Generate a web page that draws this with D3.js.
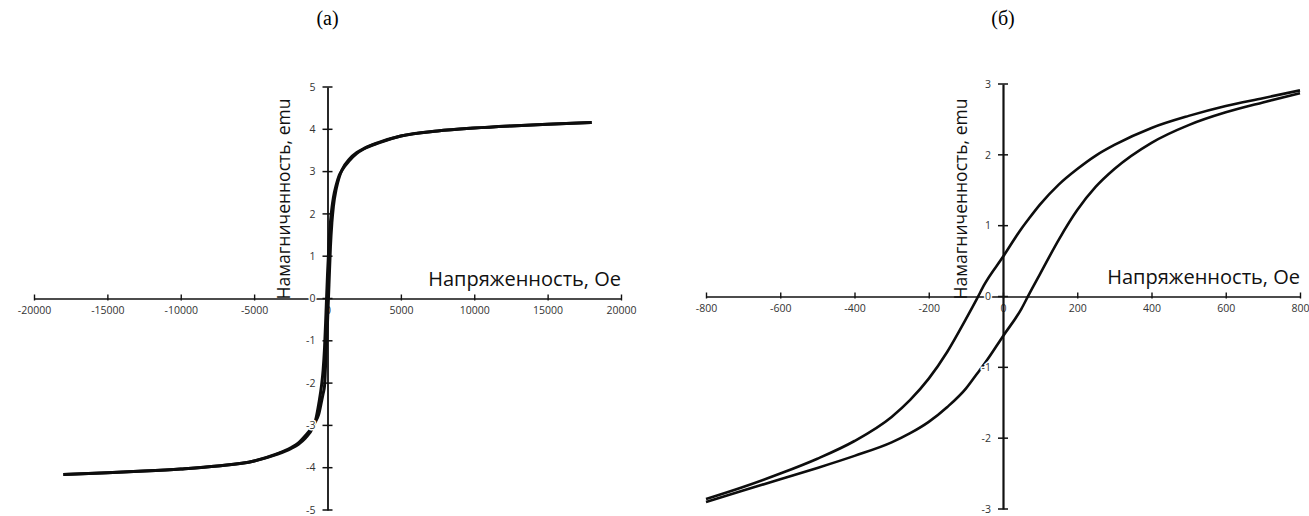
<!DOCTYPE html>
<html>
<head>
<meta charset="utf-8">
<script src="https://cdn.jsdelivr.net/npm/d3@7"></script>
<style>
  body { margin: 0; background: #fff; }
  svg { display: block; }
</style>
</head>
<body>
<svg id="chart" width="1309" height="516"></svg>
<script>
// tick values
var xTicksA = [ -20000, -15000, -10000, -5000, 0, 5000, 10000, 15000, 20000 ];
var yTicksA = [ -5, -4, -3, -2, -1, 0, 1, 2, 3, 4, 5 ];
var xTicksB = [ -800, -600, -400, -200, 0, 200, 400, 600, 800 ];
var yTicksB = [ -3, -2, -1, 0, 1, 2, 3 ];

// (а) full loop: field, Oe (same for both branches) / magnetization, emu
var aH = [ -18000, -15000, -12500, -10000, -7500, -5000, -3500, -2500, -2000, -1500, -1000, -800, -600, -400, -300, -200, -100, 0, 100, 200, 300, 400, 600, 800, 1000, 1500, 2000, 2500, 3500, 5000, 7500, 10000, 12500, 15000, 18000 ];
var aRise = [ -4.16, -4.12, -4.08, -4.03, -3.96, -3.84, -3.68, -3.53, -3.42, -3.24, -3.02, -2.90, -2.74, -2.42, -2.25, -2.06, -1.30, -0.56, 0.32, 1.22, 1.80, 2.17, 2.60, 2.87, 3.05, 3.30, 3.45, 3.55, 3.69, 3.84, 3.96, 4.03, 4.08, 4.12, 4.16 ];
var aFall = [ -4.16, -4.12, -4.08, -4.03, -3.96, -3.84, -3.69, -3.55, -3.45, -3.30, -3.05, -2.86, -2.50, -2.04, -1.70, -1.16, -0.32, 0.56, 1.30, 1.80, 2.14, 2.38, 2.69, 2.91, 3.04, 3.26, 3.43, 3.54, 3.68, 3.84, 3.96, 4.03, 4.08, 4.12, 4.16 ];

// (б) central part of the loop
var bH = [ -800, -700, -600, -500, -400, -300, -250, -200, -150, -100, -70, -50, 0, 50, 70, 100, 150, 200, 250, 300, 400, 500, 600, 700, 800 ];
var bFall = [ -2.86, -2.69, -2.50, -2.29, -2.04, -1.70, -1.46, -1.16, -0.78, -0.32, -0.03, 0.17, 0.56, 0.96, 1.10, 1.30, 1.58, 1.80, 1.99, 2.14, 2.38, 2.55, 2.69, 2.80, 2.91 ];
var bRise = [ -2.90, -2.74, -2.58, -2.42, -2.25, -2.06, -1.93, -1.77, -1.56, -1.30, -1.09, -0.95, -0.56, -0.17, 0.03, 0.32, 0.80, 1.22, 1.55, 1.80, 2.17, 2.42, 2.60, 2.74, 2.87 ];

var xTitle = "Напряженность, Ое";
var yTitle = "Намагниченность, emu";

var svg = d3.select( "#chart" );
var tickFont = "'Open Sans', 'Noto Sans', sans-serif";

function zip( h, m ) {
  return h.map( function( v, i ) { return [ v, m[ i ] ]; } );
}

function panel( p ) {
  var x = p.x, y = p.y;
  var g = svg.append( "g" );

  g.append( "text" )
    .attr( "x", x( 0 ) )
    .attr( "y", 25 )
    .attr( "text-anchor", "middle" )
    .style( "font-family", "'Liberation Serif', serif" )
    .style( "font-size", "20px" )
    .text( p.label );

  // x axis, ticks cross the line
  var gx = g.append( "g" )
    .attr( "transform", "translate(0," + y( 0 ) + ")" )
    .call( d3.axisBottom( x ).tickValues( p.xTicks ).tickFormat( d => String( d ) )
      .tickSizeInner( -4 ).tickSizeOuter( 0 ).tickPadding( 8 ) );
  gx.select( ".domain" ).attr( "stroke", "#111" ).attr( "stroke-width", 1.6 );
  gx.selectAll( ".tick line" ).attr( "y1", 2 ).attr( "stroke", "#111" ).attr( "stroke-width", 1.4 );
  gx.selectAll( ".tick text" )
    .style( "font-family", tickFont ).style( "font-size", "10.5px" ).attr( "fill", "#333" );

  // y axis
  var gy = g.append( "g" )
    .attr( "transform", "translate(" + x( 0 ) + ",0)" )
    .call( d3.axisLeft( y ).tickValues( p.yTicks ).tickSize( 0 ).tickFormat( "" ) );
  gy.select( ".domain" ).attr( "stroke", "#111" ).attr( "stroke-width", p.yAxisW );
  gy.selectAll( ".tick line" ).remove();
  gy.selectAll( "line.cross" )
    .data( p.yTicks ).enter().append( "line" )
      .attr( "class", "cross" )
      .attr( "x1", -5 ).attr( "x2", 5 )
      .attr( "y1", d => y( d ) ).attr( "y2", d => y( d ) )
      .attr( "stroke", "#111" ).attr( "stroke-width", 1.5 );

  // curves, each branch is a function of the field
  var line = d3.line()
    .x( d => x( d[ 0 ] ) )
    .y( d => y( d[ 1 ] ) )
    .curve( d3.curveMonotoneX );

  p.series.forEach( function( s ) {
    g.append( "path" )
      .datum( s )
      .attr( "fill", "none" )
      .attr( "stroke", "#0d0d0d" )
      .attr( "stroke-width", p.lineW )
      .attr( "stroke-linejoin", "round" )
      .attr( "d", line );
  } );

  // y tick labels sit on top of the curves with a white backing
  g.selectAll( "text.ylab" )
    .data( p.yTicks ).enter().append( "text" )
      .attr( "class", "ylab" )
      .attr( "x", x( 0 ) - p.yLabOff )
      .attr( "y", d => y( d ) )
      .attr( "dy", "0.35em" )
      .attr( "text-anchor", "end" )
      .style( "font-family", tickFont ).style( "font-size", "10.5px" )
      .attr( "fill", "#333" )
      .attr( "stroke", "#fff" ).attr( "stroke-width", 3 )
      .style( "paint-order", "stroke" )
      .text( d => String( d ) );

  // axis titles
  g.append( "text" )
    .attr( "x", x.range()[ 1 ] )
    .attr( "y", y( 0 ) - 13 )
    .attr( "text-anchor", "end" )
    .style( "font-family", tickFont )
    .style( "font-size", "20px" )
    .attr( "fill", "#111" )
    .text( xTitle );

  g.append( "text" )
    .attr( "transform", "translate(" + p.yTitleX + ",199) rotate(-90)" )
    .attr( "text-anchor", "middle" )
    .style( "font-family", tickFont )
    .style( "font-size", "17.5px" )
    .attr( "fill", "#111" )
    .text( yTitle );
}

panel( {
  label: "(а)",
  x: d3.scaleLinear().domain( [ -20000, 20000 ] ).range( [ 34, 621 ] ),
  y: d3.scaleLinear().domain( [ -5, 5 ] ).range( [ 510, 87 ] ),
  xTicks: xTicksA, yTicks: yTicksA,
  series: [ zip( aH, aRise ), zip( aH, aFall ) ],
  lineW: 3, yAxisW: 1.8, yLabOff: 12, yTitleX: 290
} );

panel( {
  label: "(б)",
  x: d3.scaleLinear().domain( [ -800, 800 ] ).range( [ 706, 1300 ] ),
  y: d3.scaleLinear().domain( [ -3, 3 ] ).range( [ 509, 84 ] ),
  xTicks: xTicksB, yTicks: yTicksB,
  series: [ zip( bH, bFall ), zip( bH, bRise ) ],
  lineW: 2.6, yAxisW: 2.2, yLabOff: 12, yTitleX: 967
} );
</script>
</body>
</html>
